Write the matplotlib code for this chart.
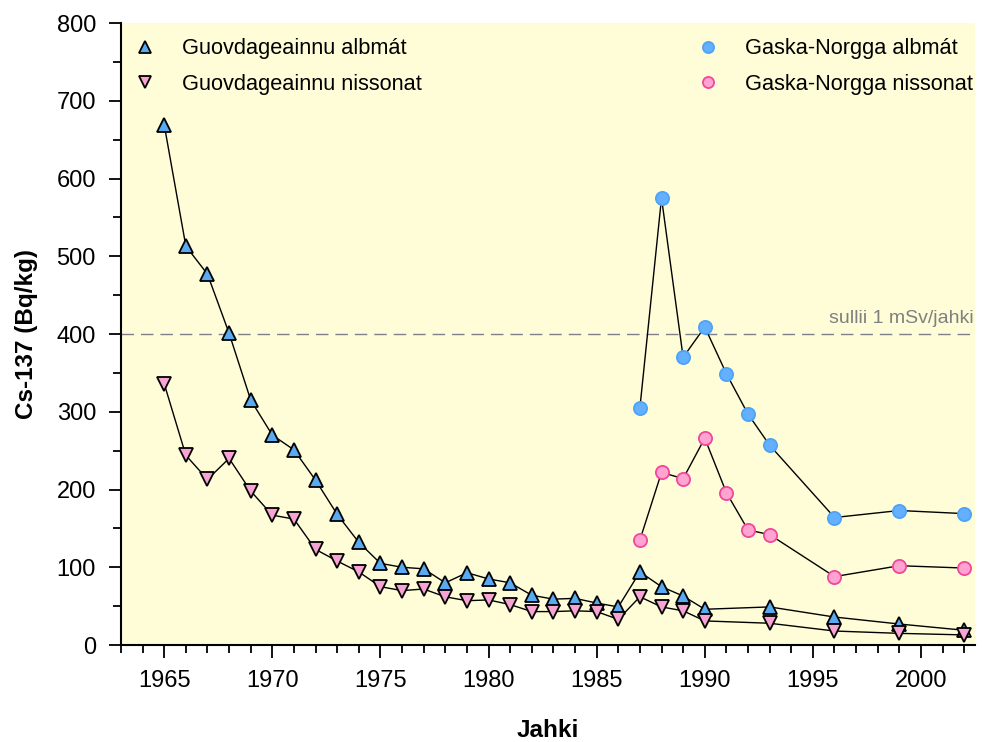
import matplotlib
matplotlib.use("Agg")
import matplotlib.pyplot as plt
from matplotlib.ticker import MultipleLocator
from matplotlib.lines import Line2D

plt.rcParams['font.family'] = ['Liberation Sans', 'DejaVu Sans']

years_g = [1965, 1966, 1967, 1968, 1969, 1970, 1971, 1972, 1973, 1974, 1975,
           1976, 1977, 1978, 1979, 1980, 1981, 1982, 1983, 1984, 1985, 1986,
           1987, 1988, 1989, 1990, 1993, 1996, 1999, 2002]
guov_albmat = [669, 513, 477, 401, 315, 270, 251, 212, 168, 132, 105,
               100, 98, 80, 93, 85, 80, 64, 59, 60, 54, 49,
               94, 75, 63, 46, 49, 36, 27, 19]
guov_nissonat = [336, 244, 213, 240, 198, 167, 162, 123, 108, 94, 75,
                 70, 72, 62, 57, 58, 52, 43, 43, 44, 43, 33,
                 62, 49, 44, 31, 28, 18, 15, 13]

years_n = [1987, 1988, 1989, 1990, 1991, 1992, 1993, 1996, 1999, 2002]
norgga_albmat = [305, 575, 370, 409, 349, 297, 257, 164, 173, 169]
norgga_nissonat = [135, 222, 214, 266, 196, 148, 142, 88, 102, 99]

limit_value = 400
limit_label = "sullii 1 mSv/jahki"
labels = ["Guovdageainnu albmát", "Guovdageainnu nissonat",
          "Gaska-Norgga albmát", "Gaska-Norgga nissonat"]

fig = plt.figure(figsize=(9.82, 7.42), dpi=100)
ax = fig.add_axes([0.1232, 0.1307, 0.8697, 0.8383])
ax.set_facecolor('#FEFDD8')

ax.axhline(limit_value, color='#80808A', lw=1, dashes=(9, 5), zorder=1)
ax.text(2002.45, limit_value + 9, limit_label, ha='right', va='bottom',
        color='#808080', fontsize=14)

ms = 9.5
l1, = ax.plot(years_g, guov_albmat, color='black', lw=1, marker='^', ms=ms,
              mfc='#5AAAF2', mec='black', mew=1.3, zorder=3)
l2, = ax.plot(years_g, guov_nissonat, color='black', lw=1, marker='v', ms=ms,
              mfc='#F7A3D3', mec='black', mew=1.3, zorder=3)
l3, = ax.plot(years_n, norgga_albmat, color='black', lw=1, marker='o', ms=ms,
              mfc='#64B0FF', mec='#4DA3F5', mew=1.3, zorder=3)
l4, = ax.plot(years_n, norgga_nissonat, color='black', lw=1, marker='o', ms=ms,
              mfc='#FFA3D1', mec='#F2479A', mew=1.3, zorder=3)

ax.set_xlim(1963, 2002.5)
ax.set_ylim(0, 800)
ax.xaxis.set_major_locator(MultipleLocator(5))
ax.xaxis.set_minor_locator(MultipleLocator(1))
ax.yaxis.set_major_locator(MultipleLocator(100))
ax.yaxis.set_minor_locator(MultipleLocator(50))
ax.tick_params(axis='both', which='major', length=9, width=1.3, labelsize=17,
               direction='out', color='black')
ax.tick_params(axis='both', which='minor', length=6, width=1.3, direction='out')
ax.tick_params(axis='x', which='major', pad=9)
ax.tick_params(axis='y', which='major', pad=9)
for s in ['top', 'right']:
    ax.spines[s].set_visible(False)
for s in ['left', 'bottom']:
    ax.spines[s].set_linewidth(1.5)

ax.set_xlabel("Jahki", fontsize=17.5, fontweight='bold')
ax.xaxis.label.set_va('center')
ax.xaxis.set_label_coords(0.5, -0.138)
ax.set_ylabel("Cs-137 (Bq/kg)", fontsize=17.5, fontweight='bold')
ax.yaxis.label.set_va('center')
ax.yaxis.set_label_coords(-0.111, 0.5)


def handle(line):
    return Line2D([], [], ls='none', marker=line.get_marker(), ms=8,
                  mfc=line.get_markerfacecolor(), mec=line.get_markeredgecolor(),
                  mew=1.3)


common = dict(frameon=False, fontsize=15.7, handletextpad=0.7,
              labelspacing=0.68, borderpad=0.1, borderaxespad=0.0)
leg1 = ax.legend([handle(l1), handle(l2)], labels[:2], loc='upper left',
                 bbox_to_anchor=(0.0, 0.979), **common)
ax.add_artist(leg1)
ax.legend([handle(l3), handle(l4)], labels[2:], loc='upper right',
          bbox_to_anchor=(1.0, 0.979), **common)

fig.savefig("out.png", dpi=100)
